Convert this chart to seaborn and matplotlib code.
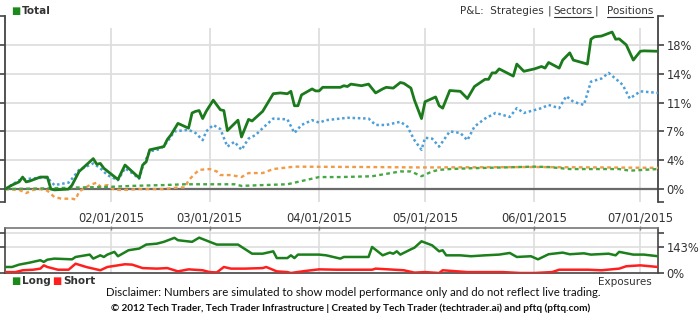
import numpy as np
import pandas as pd
import matplotlib
matplotlib.use("Agg")
import matplotlib.pyplot as plt
import matplotlib.dates as mdates
from matplotlib.lines import Line2D
import seaborn as sns

# ---------------- data ----------------
total_dates = ["01-02","01-04","01-06","01-07","01-08","01-09","01-12","01-14","01-15","01-16",
               "01-20","01-21","01-23","01-25","01-27","01-28","01-29","01-30","02-01","02-03",
               "02-05","02-07","02-09","02-10","02-11","02-12","02-14","02-16","02-17","02-18",
               "02-20","02-23","02-24","02-25","02-26","02-27","02-28","03-02","03-04","03-05",
               "03-06","03-09","03-10","03-12","03-13","03-16","03-19","03-21","03-23","03-24",
               "03-25","03-26","03-27","03-30","03-31","04-01","04-02","04-07","04-08","04-09",
               "04-10","04-13","04-15","04-17","04-19","04-20","04-22","04-24","04-25","04-27",
               "04-28","04-30","05-01","05-04","05-05","05-06","05-08","05-11","05-13","05-15",
               "05-18","05-19","05-20","05-21","05-22","05-26","05-27","05-29","06-01","06-03",
               "06-04","06-05","06-08","06-09","06-11","06-12","06-16","06-17","06-18","06-20",
               "06-23","06-24","06-25","06-27","06-29","07-01","07-02","07-06"]
total_vals = [0.0,0.5,0.9,1.5,0.9,1.0,1.5,1.5,0.0,-0.1,
              0.0,0.5,2.2,3.0,3.8,3.1,3.2,2.6,1.9,1.2,
              3.0,2.2,1.4,3.0,3.4,4.9,5.1,5.3,6.2,6.75,
              8.2,7.6,9.5,9.7,9.8,8.8,9.7,11.1,9.9,9.8,
              7.3,8.6,6.5,8.7,8.5,9.7,11.9,12.0,11.9,12.2,
              10.4,10.4,11.75,12.5,12.25,12.25,12.7,12.7,12.9,12.8,
              13.1,12.9,13.1,12.0,12.5,12.7,12.6,13.3,13.2,12.6,
              11.1,8.8,10.9,11.5,10.4,10.1,12.3,12.2,11.3,12.8,
              13.7,13.7,14.5,14.5,15.0,14.1,15.6,14.7,15.0,15.3,
              15.1,15.8,15.1,16.1,17.0,16.1,15.6,18.7,19.0,19.1,
              19.6,18.7,18.75,18.0,16.1,17.2,17.25,17.2]

blue_dates = ["01-02","01-06","01-09","01-12","01-14","01-16","01-20","01-21","01-23","01-25",
              "01-27","01-29","01-31","02-03","02-05","02-07","02-09","02-10","02-12","02-15",
              "02-17","02-19","02-23","02-25","02-27","02-28","03-02","03-04","03-06","03-08",
              "03-10","03-12","03-14","03-16","03-19","03-23","03-25","03-27","03-30","04-01",
              "04-03","04-09","04-15","04-17","04-20","04-24","04-26","04-28","04-30","05-01",
              "05-03","05-05","05-08","05-11","05-13","05-15","05-18","05-21","05-25","05-27",
              "05-29","06-03","06-05","06-08","06-10","06-12","06-15","06-17","06-20","06-22",
              "06-25","06-26","06-28","07-01","07-06"]
blue_vals = [0.0,1.1,1.3,1.4,1.4,0.5,0.8,1.3,2.4,2.8,
             3.2,2.6,1.75,1.1,2.6,2.0,1.3,2.8,4.7,5.0,
             5.9,7.2,7.4,7.0,6.1,7.2,8.0,7.5,5.3,5.9,
             4.9,6.3,6.75,7.6,8.8,8.7,7.0,8.0,8.6,8.3,
             8.6,8.9,8.8,8.0,8.0,8.4,7.8,6.1,4.9,6.4,
             6.3,5.3,7.2,7.0,6.1,7.8,8.8,9.5,9.0,10.1,
             9.5,10.1,10.5,10.1,11.6,10.9,10.5,13.4,13.8,14.5,
             13.4,13.0,11.3,12.2,12.0]

orange_dates = ["01-02","01-06","01-08","01-10","01-12","01-14","01-16","01-18","01-21","01-22",
                "01-23","01-26","01-28","01-29","01-31","02-02","02-05","02-09","02-16","02-20",
                "02-22","02-23","02-25","02-26","03-01","03-03","03-04","03-07","03-10","03-12",
                "03-16","03-19","03-23","03-25","04-15","04-30","06-01","06-20","07-06"]
orange_vals = [0.0,-0.1,-0.5,-0.1,0.0,-0.2,-1.0,-1.2,-1.2,-1.3,
               -0.3,0.5,0.8,0.3,0.5,-0.1,-0.1,0.0,0.0,0.2,
               0.2,1.1,2.0,2.4,2.5,2.2,1.75,1.75,1.5,2.0,
               2.0,2.5,2.7,2.8,2.75,2.7,2.75,2.7,2.65]

green_dates = ["01-02","01-15","01-23","01-29","02-02","02-07","02-16","02-22","02-26","03-05",
               "03-08","03-10","03-16","03-23","03-27","04-01","04-07","04-16","04-20","04-24",
               "04-27","04-30","05-03","05-05","05-08","05-14","06-01","06-05","06-11","06-25",
               "06-28","07-06"]
green_vals = [0.0,0.1,0.2,0.25,0.3,0.4,0.5,0.6,0.6,0.6,
              0.6,0.4,0.5,0.6,1.0,1.5,1.5,1.6,1.9,2.2,
              2.2,1.6,2.2,2.4,2.5,2.6,2.8,2.75,2.5,2.5,
              2.3,2.5]

long_dates = ["01-02","01-04","01-06","01-09","01-12","01-13","01-14","01-16","01-21","01-22",
              "01-26","01-27","01-29","01-30","01-31","02-02","02-03","02-06","02-09","02-11",
              "02-14","02-16","02-19","02-20","02-24","02-26","03-01","03-03","03-09","03-13",
              "03-16","03-19","03-20","03-23","03-24","03-25","03-26","04-01","04-03","04-07",
              "04-08","04-12","04-15","04-16","04-19","04-21","04-22","04-23","04-24","04-27",
              "04-28","04-30","05-03","05-05","05-06","05-07","05-11","05-14","05-18","05-22",
              "05-25","05-27","05-31","06-02","06-05","06-09","06-11","06-15","06-17","06-22",
              "06-24","06-25","06-29","07-02","07-06"]
long_vals = [33,33,46,57,70,61,73,79,75,88,
             101,79,97,88,101,116,92,125,134,156,
             161,171,193,180,171,194,171,156,156,106,
             106,119,82,82,97,82,101,101,97,79,
             88,88,88,143,97,112,106,119,101,130,
             139,174,152,119,125,97,97,92,97,101,
             110,88,92,75,103,112,103,108,101,106,
             97,116,101,101,92]

short_dates = ["01-02","01-05","01-07","01-10","01-12","01-13","01-14","01-17","01-20","01-22",
               "01-25","01-29","01-31","02-05","02-07","02-10","02-14","02-17","02-20","02-23",
               "02-27","03-01","03-03","03-04","03-05","03-07","03-11","03-16","03-17","03-20",
               "03-23","03-24","03-28","04-01","04-06","04-16","04-17","04-25","04-28","05-01",
               "05-05","05-06","05-13","05-23","05-28","06-01","06-06","06-08","06-16","06-20",
               "06-25","06-27","07-01","07-06"]
short_vals = [5,5,15,18,24,42,33,18,18,51,
              33,15,33,48,46,27,24,27,9,20,
              15,5,3,18,33,24,24,27,33,9,
              5,0,11,20,18,18,24,15,2,5,
              0,15,5,5,0,0,5,18,18,15,
              24,37,42,33]

pnl_ticks = [-1.55, 0.0, 3.6, 7.2, 10.8, 14.4, 18.0, 21.6]
pnl_labels = ["", "0%", "4%", "7%", "11%", "14%", "18%", ""]
exp_ticks = [0, 143, 220]
exp_labels = ["0%", "143%", ""]
month_ticks = ["02-01", "03-01", "04-01", "05-01", "06-01", "07-01"]
month_labels = ["02/01/2015", "03/01/2015", "04/01/2015", "05/01/2015", "06/01/2015", "07/01/2015"]


def to_dt(lst):
    return pd.to_datetime(["2015-" + s for s in lst])


# ---------------- styling ----------------
sns.set_style("white")
plt.rcParams["font.family"] = ["DejaVu Sans"]

W, H = 700, 327
fig = plt.figure(figsize=(W / 100, H / 100), dpi=100)

def ax_rect(x0, y0, x1, y1):
    return [x0 / W, 1 - y1 / H, (x1 - x0) / W, (y1 - y0) / H]

ax = fig.add_axes(ax_rect(5, 16, 658, 201.5))
ax2 = fig.add_axes(ax_rect(5, 228, 658, 273))

xmin, xmax = pd.Timestamp("2015-01-02"), pd.Timestamp("2015-07-06")
grid_c = "#dedede"
spine_c = "#444444"
text_c = "#333333"

# ---------- top panel ----------
for t in pnl_ticks[2:-1]:
    ax.axhline(t, color=grid_c, lw=1.3, zorder=0)
ax.vlines(to_dt(month_ticks), -1.55, 20.1, color=grid_c, lw=1.3, zorder=0)
ax.axhline(0, color="#6a6a6a", lw=1.6, zorder=1)

sns.lineplot(x=to_dt(orange_dates), y=orange_vals, ax=ax, color="#f39a45", lw=1.7,
             linestyle=(0, (1.6, 1.4)), sort=False, estimator=None, zorder=3)
sns.lineplot(x=to_dt(green_dates), y=green_vals, ax=ax, color="#45a845", lw=1.7,
             linestyle=(0, (1.6, 1.4)), sort=False, estimator=None, zorder=3)
sns.lineplot(x=to_dt(blue_dates), y=blue_vals, ax=ax, color="#4c9fd8", lw=1.8,
             linestyle=(0, (1.0, 1.1)), sort=False, estimator=None, zorder=4)
sns.lineplot(x=to_dt(total_dates), y=total_vals, ax=ax, color="#1b7a1b", lw=2.0,
             sort=False, estimator=None, zorder=5)

for s in ["top", "bottom"]:
    ax.spines[s].set_visible(False)
for s in ["left", "right"]:
    ax.spines[s].set_color(spine_c)
    ax.spines[s].set_linewidth(1.3)
ax.set_yticks(pnl_ticks)
ax.set_yticklabels(pnl_labels)
ax.yaxis.set_ticks_position("both")
ax.tick_params(axis="y", which="both", direction="out", length=4, width=1.2, color=spine_c,
               labelleft=False, labelright=True, labelsize=8.3, labelcolor=text_c, pad=2)
ax.set_xticks(to_dt(month_ticks))
ax.set_xticklabels(month_labels)
ax.tick_params(axis="x", direction="out", length=4, width=1.0, color="#888888",
               labelsize=8.3, labelcolor=text_c, pad=3)
ax.set_xlabel("")
ax.set_ylabel("")
ax.set_xlim(xmin, xmax)
ax.set_ylim(-1.55, 21.6)

# ---------- bottom panel ----------
for t in exp_ticks[1:]:
    ax2.axhline(t, color=grid_c, lw=1.2, zorder=0)
ax2.vlines(to_dt(month_ticks), 0, 247, color=grid_c, lw=1.2, zorder=0)
sns.lineplot(x=to_dt(short_dates), y=short_vals, ax=ax2, color="#ff1f1f", lw=1.8,
             sort=False, estimator=None, zorder=3)
sns.lineplot(x=to_dt(long_dates), y=long_vals, ax=ax2, color="#1b7f1b", lw=1.8,
             sort=False, estimator=None, zorder=4)
for s in ax2.spines.values():
    s.set_color(spine_c)
    s.set_linewidth(1.2)
ax2.spines["top"].set_color("#777777")
ax2.set_yticks(exp_ticks)
ax2.set_yticklabels(exp_labels)
ax2.yaxis.set_ticks_position("both")
ax2.tick_params(axis="y", direction="out", length=4, width=1.2, color=spine_c,
                labelleft=False, labelright=True, labelsize=8.3, labelcolor=text_c, pad=2)
ax2.set_xticks(to_dt(month_ticks))
ax2.tick_params(axis="x", direction="inout", length=3, width=1.0, color="#888888",
                labelbottom=False, top=True)
ax2.set_xlabel("")
ax2.set_ylabel("")
ax2.set_xlim(xmin, xmax)
ax2.set_ylim(0, 247)

# ---------- texts ----------
def fx(x):
    return x / W

def fy(y):
    return 1 - y / H

fig.text(fx(11), fy(11), "■", color="#1b8a1b", fontsize=7, va="center", ha="left")
fig.text(fx(22), fy(11), "Total", color=text_c, fontsize=7.5, va="center", ha="left",
         fontweight="bold")

fig.text(fx(11), fy(281), "■", color="#1b8a1b", fontsize=7, va="center", ha="left")
fig.text(fx(22), fy(281), "Long", color=text_c, fontsize=7.5, va="center", ha="left",
         fontweight="bold")
fig.text(fx(52), fy(281), "■", color="#ff1f1f", fontsize=7, va="center", ha="left")
fig.text(fx(63), fy(281), "Short", color=text_c, fontsize=7.5, va="center", ha="left",
         fontweight="bold")
fig.text(fx(652), fy(282), "Exposures", color=text_c, fontsize=7.5, va="center", ha="right")

# P&L header with underlines
hdr_y = fy(11)
t_pos = fig.text(fx(653), hdr_y, "Positions", color=text_c, fontsize=7.5, va="center", ha="right")
fig.canvas.draw()
r = fig.canvas.get_renderer()
bb = t_pos.get_window_extent(r)
t_bar2 = fig.text((bb.x0 - 8) / W, hdr_y, "|", color=text_c, fontsize=7.5, va="center", ha="right")
fig.canvas.draw()
bb2 = t_bar2.get_window_extent(r)
t_sec = fig.text((bb2.x0 - 2) / W, hdr_y, "Sectors", color=text_c, fontsize=7.5, va="center", ha="right")
fig.canvas.draw()
bb3 = t_sec.get_window_extent(r)
t_bar1 = fig.text((bb3.x0 - 3) / W, hdr_y, "|", color=text_c, fontsize=7.5, va="center", ha="right")
fig.canvas.draw()
bb4 = t_bar1.get_window_extent(r)
fig.text((bb4.x0 - 3) / W, hdr_y, "P&L:  Strategies", color=text_c, fontsize=7.5,
         va="center", ha="right")
for b in (bb, bb3):
    yline = b.y0 - 0.5
    fig.add_artist(Line2D([b.x0 / W, b.x1 / W], [yline / H, yline / H], color=text_c, lw=0.8))

fig.text(fx(353), fy(292), "Disclaimer: Numbers are simulated to show model performance only and do not reflect live trading.",
         color="#111111", fontsize=8.2, va="center", ha="center", family="Lato")
fig.text(fx(351), fy(308), "© 2012 Tech Trader, Tech Trader Infrastructure | Created by Tech Trader (techtrader.ai) and pftq (pftq.com)",
         color="#111111", fontsize=7.2, va="center", ha="center", family="Lato", fontweight="bold")

fig.savefig("out.png", dpi=100)
